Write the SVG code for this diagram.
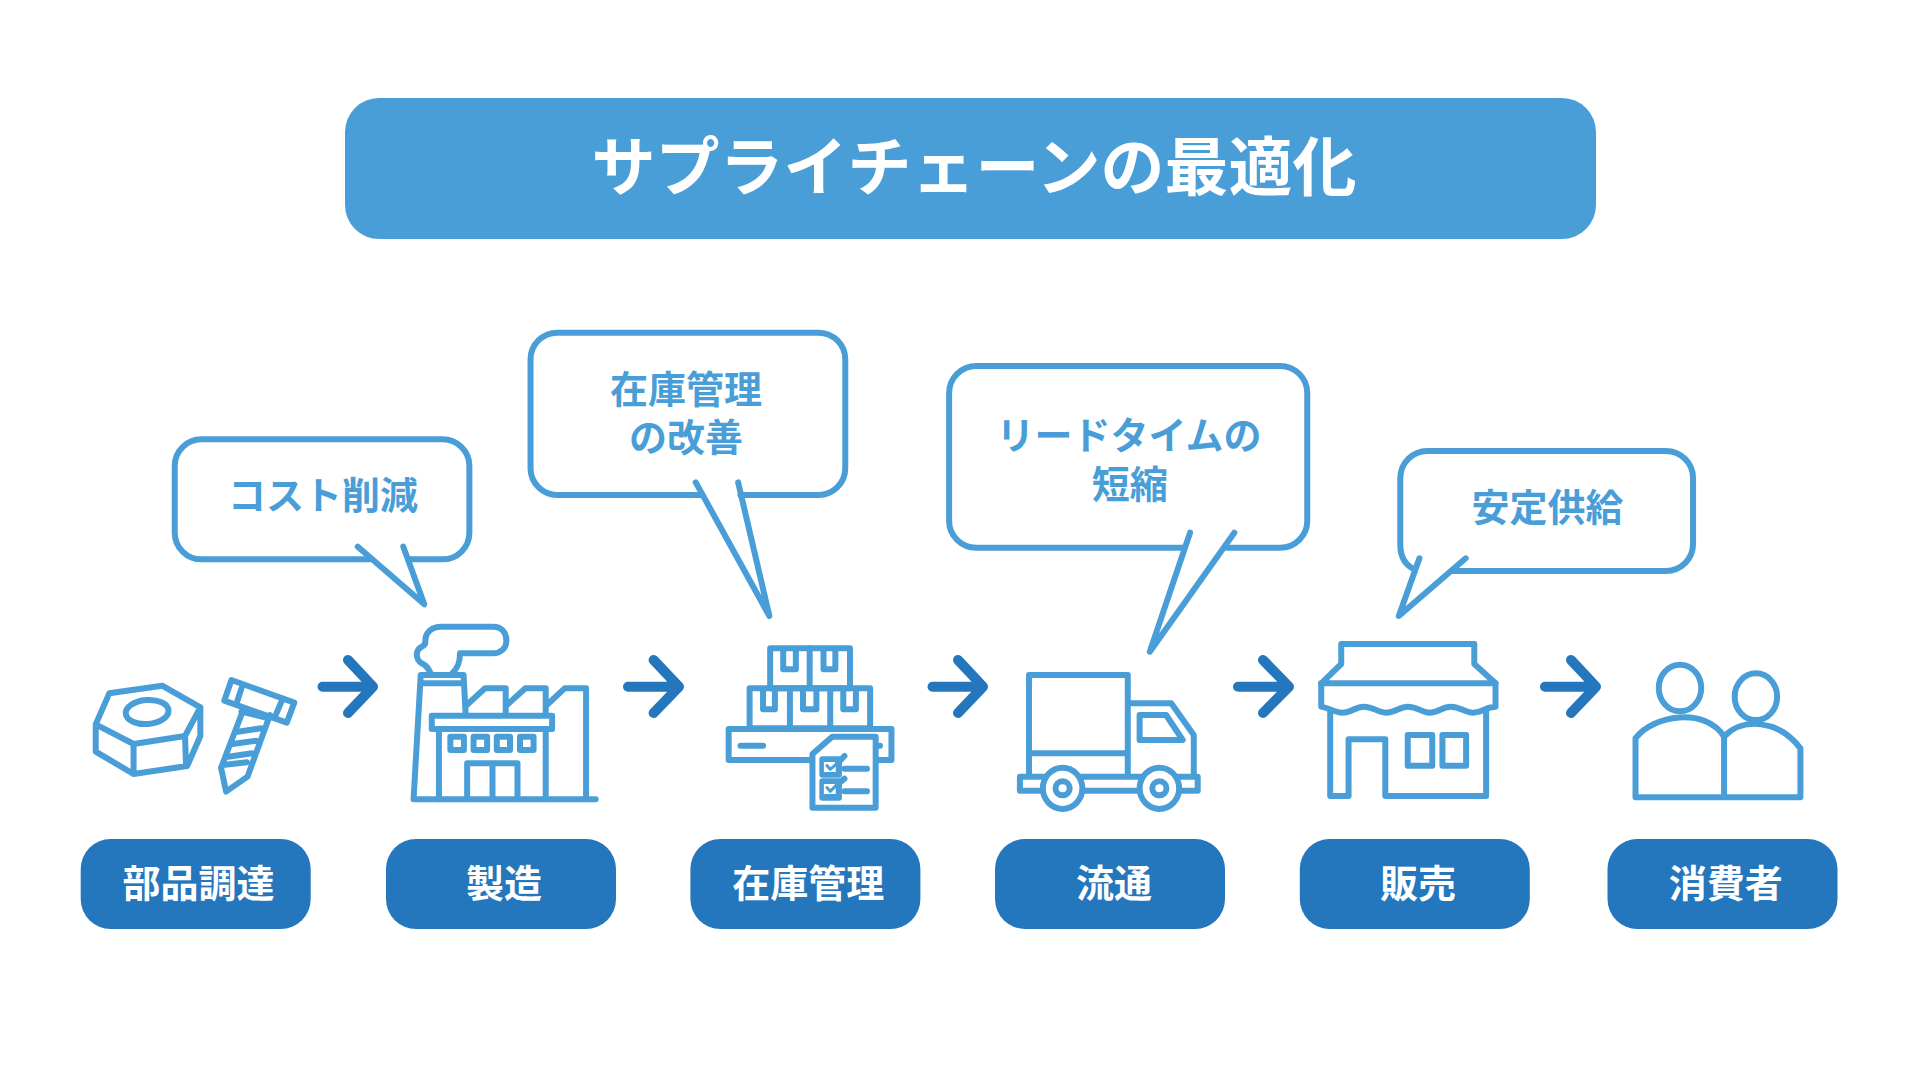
<svg xmlns="http://www.w3.org/2000/svg" width="1920" height="1080" viewBox="0 0 1920 1080">
<style>
text{font-family:"Noto Sans CJK JP","Noto Sans CJK SC",sans-serif;font-weight:700;text-anchor:middle}
.title{font-size:64px;fill:#fff}
.lbl{font-size:38px;fill:#fff}
.say{font-size:38px;fill:#4a9ed8}
.pill{fill:#2476bd}
.ic *{fill:none;stroke:#4a9ed8;stroke-width:6;stroke-linejoin:round;stroke-linecap:round;vector-effect:non-scaling-stroke}
.ic .w{fill:#fff}
.ic .f{fill:#4a9ed8}
.ic .t{fill:#fff;stroke:none}
.ic .k{stroke-width:3}
.arr{fill:none;stroke:#2476bd;stroke-width:10;stroke-linecap:round;stroke-linejoin:round}
</style>
<rect width="1920" height="1080" fill="#fff"/>
<g id="title"><rect x="345" y="98" width="1251" height="141" rx="34" fill="#4a9ed8"/><text class="title" x="974" y="190">サプライチェーンの最適化</text></g>

<g id="connectors" class="arr">
<path d="M322.5 686.7H372M348 660L373 686.7L348 713"/>
<path d="M628 686.7H678M653.6 660L679 686.7L653.6 713"/>
<path d="M932.5 686.7H983M958 660L983 686.7L958 713"/>
<path d="M1238 686.7H1288M1263 660L1289 686.7L1263 713"/>
<path d="M1545 686.7H1595M1571 660L1596 686.7L1571 713"/>
</g>

<g id="node-parts">
<g class="ic" transform="translate(70 600) scale(.35714 .33333)">
<path d="M72 373L110 280L258 257L365 322L322 408L178 432ZM72 373V455L178 522L328 498L365 408V322M178 432V522M322 408L325 498"/>
<ellipse cx="216" cy="336" rx="60" ry="36" transform="rotate(-5 216 336)"/>
<path d="M452 240L628 308L607 368L432 302ZM480 265L465 315M592 305L572 355M485 330L423 503L437 575L497 530L560 345M480 335L545 352M470 395L535 385M455 432L522 422M443 470L510 460M428 495L495 487"/>
</g>
<rect class="pill" x="80.700" y="839" width="230" height="90" rx="30"/><text class="lbl" x="198.600" y="897">部品調達</text>
</g>

<g id="node-factory">
<g class="ic" transform="translate(70 600) scale(.35714 .33333)">
<path d="M962 598H1472M962 598L982 225H1102L1108 345M985 250H1095"/>
<path d="M1010 220C1003 205 998 195 985 190C968 180 965 150 985 140C998 135 995 125 995 120C995 100 1010 80 1040 80H1185C1210 80 1222 100 1222 122C1222 145 1205 160 1185 160H1092C1092 190 1085 205 1070 220"/>
<path d="M1108 318L1162 265H1220V345M1220 318L1275 265H1332V345M1332 318L1385 265H1445V598"/>
<rect x="1013" y="347" width="337" height="40"/>
<path d="M1033 387V598M1332 387V598"/>
<rect x="1065" y="410" width="38" height="40"/><rect x="1130" y="410" width="38" height="40"/><rect x="1195" y="410" width="37" height="40"/><rect x="1260" y="410" width="38" height="40"/>
<path d="M1112 598V490H1253V598M1183 490V598"/>
</g>
<rect class="pill" x="386" y="839" width="230" height="90" rx="30"/><text class="lbl" x="504" y="897">製造</text>
</g>

<g id="node-inventory">
<g class="ic" transform="translate(620 600) scale(.39516 .33333)">
<rect x="380" y="145" width="202" height="120"/><path d="M480 145V265M413 150V208H445V150M515 150V208H545V150"/>
<rect x="328" y="265" width="305" height="120"/><path d="M430 265V385M532 265V385M362 270V328H392V270M463 270V328H497V270M565 270V328H597V270"/>
<rect x="275" y="387" width="412" height="93"/><path d="M305 437H362M655 437H658"/>
<path class="w" d="M487 462L537 410H647V623H487Z"/>
<rect class="f" x="512" y="478" width="42" height="46"/><rect class="f" x="512" y="544" width="42" height="49"/>
<rect class="t" x="516" y="486" width="30" height="30"/><rect class="t" x="516" y="552" width="30" height="30"/>
<path class="k" d="M524 497L532 508L552 488M524 563L532 574L552 550"/>
<path d="M552 488L568 468M552 552L568 536M568 506H625M568 574H625"/>
</g>
<rect class="pill" x="690.400" y="839" width="230" height="90" rx="30"/><text class="lbl" x="808.200" y="897">在庫管理</text>
</g>

<g id="node-truck">
<g class="ic" transform="translate(620 600) scale(.39516 .33333)">
<path d="M1035 525V225H1285V525M1035 460H1285M1285 310H1395L1452 405V525"/>
<path d="M1315 345H1382L1424 420H1315Z"/>
<rect x="1012" y="530" width="450" height="42"/>
<ellipse class="w" cx="1120" cy="565" rx="50" ry="62"/><ellipse cx="1120" cy="565" rx="18" ry="21"/>
<ellipse class="w" cx="1365" cy="565" rx="50" ry="62"/><ellipse cx="1365" cy="565" rx="18" ry="21"/>
</g>
<rect class="pill" x="995" y="839" width="230" height="90" rx="30"/><text class="lbl" x="1114" y="897">流通</text>
</g>

<g id="node-shop">
<g class="ic" transform="translate(1220 600) scale(.40816 .33333)">
<path d="M248 250L297 192V132H623V192L675 250M248 250H675"/>
<path d="M248 250V320C270 325 280 338 300 338C325 338 330 320 352 320C378 320 385 338 406 338C432 338 438 320 460 320C486 320 492 338 513 338C538 338 543 320 565 320C590 320 598 338 620 338C645 338 650 320 675 320V250"/>
<path d="M270 335V588H315V418H405V588H652V335"/>
<rect x="460" y="405" width="60" height="92"/><rect x="545" y="405" width="58" height="92"/>
</g>
<rect class="pill" x="1299.800" y="839" width="230" height="90" rx="30"/><text class="lbl" x="1418" y="897">販売</text>
</g>

<g id="node-consumer">
<g class="ic" transform="translate(1220 600) scale(.40816 .33333)">
<ellipse cx="1127" cy="264" rx="52" ry="70"/><ellipse cx="1313" cy="290" rx="52" ry="70"/>
<path d="M1018 592V415C1060 345 1190 320 1235 410V592M1235 410C1280 350 1370 360 1422 445V592H1018"/>
</g>
<rect class="pill" x="1607.500" y="839" width="230" height="90" rx="30"/><text class="lbl" x="1725.700" y="897">消費者</text>
</g>

<g id="bubble-cost">
<g class="ic" transform="translate(160 320) scale(.44643 .33333)">
<path d="M470 718H93A60 80 0 0 1 33 638V438A60 80 0 0 1 93 358H633A60 80 0 0 1 693 438V638A60 80 0 0 1 633 718H556"/>
<path d="M443 680L592 853L545 680"/>
</g>
<text class="say" x="323" y="509">コスト削減</text>
</g>

<g id="bubble-inventory">
<g class="ic" transform="translate(160 320) scale(.44643 .33333)">
<path d="M1215 525H890A60 80 0 0 1 830 445V118A60 80 0 0 1 890 38H1475A60 80 0 0 1 1535 118V445A60 80 0 0 1 1475 525H1300"/>
<path d="M1200 487L1365 888L1295 487"/>
</g>
<text class="say" x="686" y="403">在庫管理</text><text class="say" x="686" y="451">の改善</text>
</g>

<g id="bubble-leadtime">
<g class="ic" transform="translate(930 350) scale(.503 .33333)">
<path d="M505 593H92A54 81 0 0 1 38 512V129A54 81 0 0 1 92 48H696A54 81 0 0 1 750 129V512A54 81 0 0 1 696 593H590"/>
<path d="M517 548L437 905L605 548"/>
</g>
<text class="say" x="1129" y="449">リードタイムの</text><text class="say" x="1129.700" y="498">短縮</text>
</g>

<g id="bubble-supply">
<g class="ic" transform="translate(930 350) scale(.503 .33333)">
<path d="M963 658C945 645 935 620 935 585V384A54 81 0 0 1 989 303H1463A54 81 0 0 1 1517 384V582A54 81 0 0 1 1463 663H1040"/>
<path d="M973 625L932 798L1065 625"/>
</g>
<text class="say" x="1547.500" y="521">安定供給</text>
</g>
</svg>
